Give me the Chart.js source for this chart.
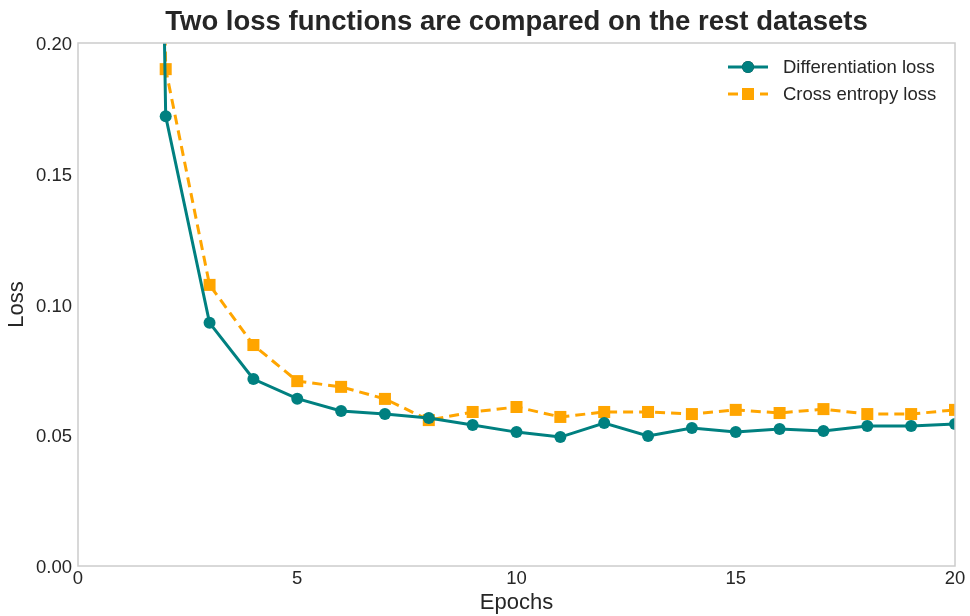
<!DOCTYPE html>
<html>
<head>
<meta charset="utf-8">
<script src="https://cdn.jsdelivr.net/npm/chart.js@4/dist/chart.umd.min.js"></script>
<style>
    html, body { margin: 0; padding: 0; background: #fff; }
    #wrap { width: 970px; height: 616px; }
</style>
</head>
<body>
<div id="wrap"><canvas id="lossChart" width="970" height="616"></canvas></div>
<script>
(function () {
    'use strict';

    var epochs = [1, 2, 3, 4, 5, 6, 7, 8, 9, 10, 11, 12, 13, 14, 15, 16, 17, 18, 19, 20];
    var diffLoss = [1.19, 0.172, 0.093, 0.0715, 0.064, 0.0593, 0.0581, 0.0566, 0.0539, 0.0512,
        0.0493, 0.0547, 0.0497, 0.0528, 0.0512, 0.0524, 0.0516, 0.0535, 0.0535, 0.0543];
    var crossLoss = [1.2, 0.190, 0.1075, 0.0845, 0.0707, 0.0685, 0.0639, 0.0558, 0.0589, 0.0608,
        0.0570, 0.0589, 0.0589, 0.0581, 0.0597, 0.0585, 0.0600, 0.0581, 0.0581, 0.0597];
    var xTicks = [0, 5, 10, 15, 20];
    var yTicks = [0, 0.05, 0.10, 0.15, 0.20];

    var TEAL = '#008080';
    var ORANGE = '#FFA500';
    var TEXT = '#262626';
    var FONT = '"Liberation Sans", Arial, sans-serif';

    function pairs(xs, ys) {
        return xs.map(function (x, i) { return { x: x, y: ys[i] }; });
    }

    // frame, title and in-plot legend
    var decorations = {
        id: 'decorations',
        afterDraw: function (chart) {
            var ctx = chart.ctx;
            var a = chart.chartArea;
            ctx.save();
            ctx.strokeStyle = '#cccccc';
            ctx.lineWidth = 1.5;
            ctx.strokeRect(a.left, a.top, a.right - a.left, a.bottom - a.top);

            ctx.fillStyle = TEXT;
            ctx.font = 'bold 27.5px ' + FONT;
            ctx.textAlign = 'center';
            ctx.textBaseline = 'middle';
            ctx.fillText('Two loss functions are compared on the rest datasets', (a.left + a.right) / 2, 22);

            var items = chart.data.datasets;
            var lx = 728, ly = 67;
            items.forEach(function (ds, i) {
                var y = ly + i * 27;
                ctx.strokeStyle = ds.borderColor;
                ctx.lineWidth = ds.borderWidth;
                ctx.setLineDash(ds.borderDash || []);
                ctx.beginPath();
                ctx.moveTo(lx, y);
                ctx.lineTo(lx + 40, y);
                ctx.stroke();
                ctx.setLineDash([]);
                Chart.helpers.drawPoint(ctx, {
                    pointStyle: ds.pointStyle,
                    radius: ds.pointRadius,
                    borderWidth: 0
                }, lx + 20, y);
                ctx.fillStyle = ds.pointBackgroundColor;
                ctx.fill();
                ctx.fillStyle = TEXT;
                ctx.font = '18.5px ' + FONT;
                ctx.textAlign = 'left';
                ctx.fillText(ds.label, lx + 55, y + 1);
            });
            ctx.restore();
        }
    };

    new Chart(document.getElementById('lossChart'), {
        type: 'line',
        data: {
            datasets: [{
                label: 'Differentiation loss',
                data: pairs(epochs, diffLoss),
                borderColor: TEAL,
                backgroundColor: TEAL,
                pointBackgroundColor: TEAL,
                pointBorderColor: TEAL,
                borderWidth: 3,
                pointStyle: 'circle',
                pointRadius: 6,
                pointBorderWidth: 0,
                tension: 0
            }, {
                label: 'Cross entropy loss',
                data: pairs(epochs, crossLoss),
                borderColor: ORANGE,
                backgroundColor: ORANGE,
                pointBackgroundColor: ORANGE,
                pointBorderColor: ORANGE,
                borderWidth: 3,
                borderDash: [10, 6],
                pointStyle: 'rect',
                pointRadius: 8.5,
                pointBorderWidth: 0,
                tension: 0
            }]
        },
        options: {
            responsive: false,
            animation: false,
            layout: { padding: { top: 43, right: 15, left: 4, bottom: 0 } },
            plugins: {
                legend: { display: false },
                title: { display: false },
                tooltip: { enabled: false }
            },
            scales: {
                x: {
                    type: 'linear',
                    min: 0,
                    max: 20,
                    grid: { display: false, drawTicks: false },
                    border: { display: false },
                    afterBuildTicks: function (scale) {
                        scale.ticks = xTicks.map(function (v) { return { value: v }; });
                    },
                    afterFit: function (scale) { scale.height = 50; },
                    ticks: {
                        color: TEXT,
                        font: { family: FONT, size: 18.5 },
                        padding: 2,
                        maxRotation: 0,
                        callback: function (v) { return String(v); }
                    },
                    title: {
                        display: true,
                        text: 'Epochs',
                        color: TEXT,
                        font: { family: FONT, size: 22 },
                        padding: { top: 1, bottom: 0 }
                    }
                },
                y: {
                    min: 0,
                    max: 0.2,
                    grid: { display: false, drawTicks: false },
                    border: { display: false },
                    afterBuildTicks: function (scale) {
                        scale.ticks = yTicks.map(function (v) { return { value: v }; });
                    },
                    afterFit: function (scale) { scale.width = 74; },
                    ticks: {
                        color: TEXT,
                        font: { family: FONT, size: 18.5 },
                        padding: 6,
                        labelOffset: 2,
                        callback: function (v) { return v.toFixed(2); }
                    },
                    title: {
                        display: true,
                        text: 'Loss',
                        color: TEXT,
                        font: { family: FONT, size: 22 },
                        padding: { top: 0, bottom: 6 }
                    }
                }
            }
        },
        plugins: [decorations]
    });
})();
</script>
</body>
</html>
